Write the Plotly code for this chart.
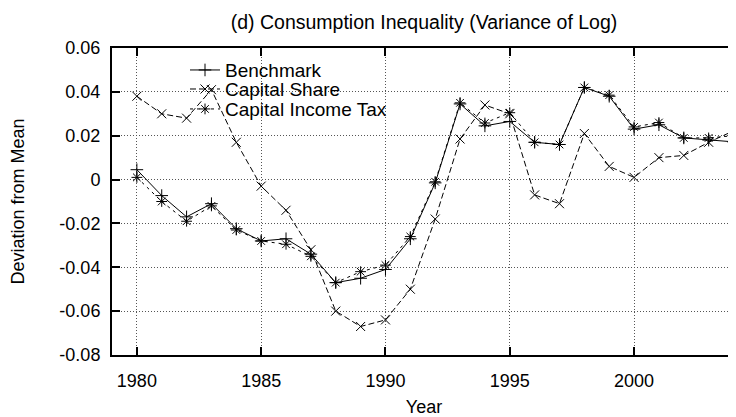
import plotly.graph_objects as go

years = list(range(1980, 2005))

benchmark = [0.0045, -0.0073, -0.0170, -0.0110, -0.0224, -0.0280, -0.0270, -0.0340,
             -0.0470, -0.0450, -0.0410, -0.0270, -0.0015, 0.0345, 0.0245, 0.0265,
             0.0170, 0.0160, 0.0420, 0.0380, 0.0230, 0.0250, 0.0190, 0.0180, 0.0172]

capital_share = [0.0380, 0.0300, 0.0280, 0.0410, 0.0170, -0.0030, -0.0140, -0.0320,
                 -0.0600, -0.0670, -0.0640, -0.0500, -0.0180, 0.0185, 0.0340, 0.0300,
                 -0.0070, -0.0110, 0.0210, 0.0060, 0.0010, 0.0100, 0.0110, 0.0170, 0.0222]

capital_income_tax = [0.0010, -0.0100, -0.0190, -0.0120, -0.0230, -0.0280, -0.0295, -0.0350,
                      -0.0470, -0.0420, -0.0390, -0.0260, -0.0010, 0.0350, 0.0258, 0.0305,
                      0.0170, 0.0160, 0.0420, 0.0385, 0.0240, 0.0260, 0.0190, 0.0190, 0.0200]

series_names = ["Benchmark", "Capital Share", "Capital Income Tax"]

x_tick_vals = [1980, 1985, 1990, 1995, 2000]
y_tick_vals = [-0.08, -0.06, -0.04, -0.02, 0.0, 0.02, 0.04, 0.06]
y_tick_text = ["-0.08", "-0.06", "-0.04", "-0.02", "0", "0.02", "0.04", "0.06"]

FONT = "Liberation Sans, Arial, Helvetica, sans-serif"

# The page body has an 8px default margin, so the figure is sized to fit the window;
# the right frame line falls just outside the visible area, as in the reference.
W, H = 730, 409

fig = go.Figure()

styles = [
    (benchmark, "solid", "cross-thin", 9, "legend"),
    (capital_share, "6px,3px", "x-thin", 9, "legend2"),
    (capital_income_tax, "3px,4px", "asterisk", 9, "legend3"),
]
for name, (vals, dash, sym, size, lg) in zip(series_names, styles):
    fig.add_trace(go.Scatter(
        x=years, y=vals, name=name, mode="lines+markers",
        line=dict(color="black", width=1, dash=dash),
        marker=dict(symbol=sym, size=size, color="black",
                    line=dict(color="black", width=1)),
        cliponaxis=False, legend=lg,
    ))

# opaque key box (hides the grid behind the key, data stays on top)
fig.add_shape(type="rect", xref="paper", yref="paper",
              x0=0, x1=0.484, y0=0.772, y1=1.0,
              fillcolor="white", line=dict(width=0), layer="between")

axis_common = dict(
    showline=True, linecolor="black", linewidth=2, mirror="ticks",
    ticks="inside", ticklen=8, tickwidth=1.5, tickcolor="black",
    showgrid=True, gridcolor="#555555", gridwidth=1, griddash="1px,2px",
    zeroline=False, tickfont=dict(family=FONT, size=18, color="black"),
)

fig.update_xaxes(
    range=[1979, 2004.1], tickvals=x_tick_vals, ticklabelstandoff=8,
    title=dict(text="Year", font=dict(family=FONT, size=18, color="black"), standoff=11),
    **axis_common,
)
fig.update_yaxes(
    range=[-0.08, 0.06], tickvals=y_tick_vals, ticktext=y_tick_text, ticklabelstandoff=6,
    title=dict(text="Deviation from Mean", font=dict(family=FONT, size=18, color="black"), standoff=30),
    **axis_common,
)

legend_font = dict(family=FONT, size=19, color="black")
legend_x = 0.117
legend_common = dict(x=legend_x, xanchor="left", yanchor="middle",
                     bgcolor="rgba(0,0,0,0)", borderwidth=0, font=legend_font)

fig.update_layout(
    width=W, height=H,
    margin=dict(l=104, r=0, t=40, b=62),
    paper_bgcolor="white", plot_bgcolor="white",
    font=dict(family=FONT, size=18, color="black"),
    title=dict(text="(d) Consumption Inequality (Variance of Log)",
               font=dict(family=FONT, size=19.5, color="black"),
               x=0.5, xref="paper", xanchor="center",
               y=1 - 14 / H, yref="container", yanchor="middle"),
    showlegend=True,
    legend=dict(y=0.928, **legend_common),
    legend2=dict(y=0.866, **legend_common),
    legend3=dict(y=0.801, **legend_common),
)

fig.write_html("out.html")
